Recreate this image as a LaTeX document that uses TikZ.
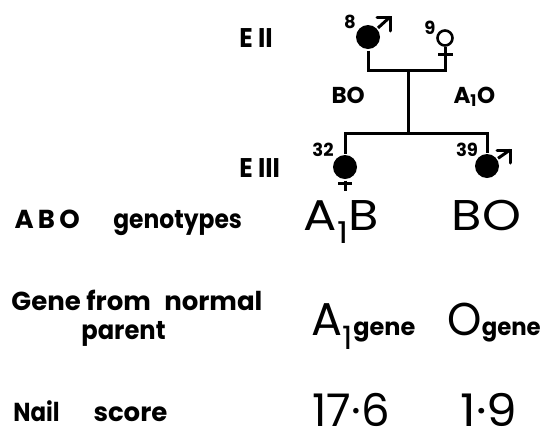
\documentclass[tikz,border=0pt]{standalone}
\usepackage{fontspec}
\setmainfont{Poppins}
\begin{document}
\begin{tikzpicture}[x=1pt,y=-1pt, line width=3pt,
  lab/.style={font=\bfseries\fontsize{26}{28}\selectfont, inner sep=0pt, anchor=base west},
  gen/.style={font=\bfseries\fontsize{23}{25}\selectfont, inner sep=0pt, anchor=base west},
  big/.style={font=\fontsize{43}{46}\selectfont, inner sep=0pt, anchor=base west},
  num/.style={font=\bfseries\fontsize{18}{20}\selectfont, inner sep=0pt},
  filled/.style={circle, fill=black, minimum size=24pt, inner sep=0pt},
  open/.style={circle, draw, line width=2.6pt, minimum size=15pt, inner sep=0pt}]
\useasboundingbox (0,0) rectangle (555,432);
% pedigree individuals
\node[filled] (p8) at (368,37) {};
\node[open] (p9) at (445,38) {};
\node[filled] (p32) at (345,167) {};
\node[filled] (p39) at (487,166) {};
\coordinate (j8) at (368,70);
\coordinate (j9) at (445,70);
\coordinate (mid) at (408,70);
\coordinate (sib) at (408,133);
\coordinate (s32) at (345,133);
\coordinate (s39) at (487,133);
% connectors
\draw (p8) -- (j8) -- (j9) -- (p9.south);
\draw (mid) -- (sib);
\draw (p32) -- (s32) -- (s39) -- (p39);
% female crosses
\draw (438,54) -- (453,54);
\draw (p32.south) -- (345,191);
\draw (338,183) -- (352,183);
% male arrows
\coordinate (a8) at (390,17);
\coordinate (a39) at (510,150);
\draw (p8) -- (a8);
\draw[line cap=round] (377,17) -- (a8) -- (390,31);
\draw (p39) -- (a39);
\draw[line cap=round] (497,150) -- (a39) -- (510,163);
% numbers
\node[num] (n8) at (350,22) {8};
\node[num] (n9) at (430,28) {9};
\node[num] (n32) at (323,150) {32};
\node[num] (n39) at (467,150) {39};
% generations
\node[gen, font=\bfseries\fontsize{27}{29}\selectfont, xscale=0.92] (g2) at (238,47) {E II};
\node[gen, font=\bfseries\fontsize{27}{29}\selectfont, xscale=0.92] (g3) at (238,177) {E III};
% parental genotypes
\node[gen] (bo) at (330,103) {BO};
\node[gen] (ao) at (452,103) {A\textsubscript{1}O};
% rows
\node[lab] (abo) at (13,228) {A\,B\,O};
\node[lab, xscale=0.9] (gty) at (112,228) {genotypes};
\node[big, xscale=1.15] (ab) at (302,230) {A\textsubscript{1}B};
\node[big, xscale=1.15] (bo2) at (450,230) {BO};
\node[lab] (gfn) at (10,310) {Gene from\hspace{0.3em} normal};
\node[lab, xscale=0.93] (par) at (80,339) {parent};
\node[big, font=\fontsize{46}{48}\selectfont] (ag) at (310,335) {A\textsubscript{1}\bfseries\fontsize{24}{26}\selectfont gene};
\node[big, font=\fontsize{46}{48}\selectfont, xscale=0.95] (og) at (446,335) {O\bfseries\fontsize{24}{26}\selectfont gene};
\node[lab, xscale=0.88] (nail) at (12,421) {Nail};
\node[lab] (score) at (92,421) {score};
\node[big, font=\fontsize{45}{47}\selectfont] (v1) at (311,426) {17·6};
\node[big, font=\fontsize{45}{47}\selectfont, xscale=1.08] (v2) at (459,426) {1·9};
\end{tikzpicture}
\end{document}
